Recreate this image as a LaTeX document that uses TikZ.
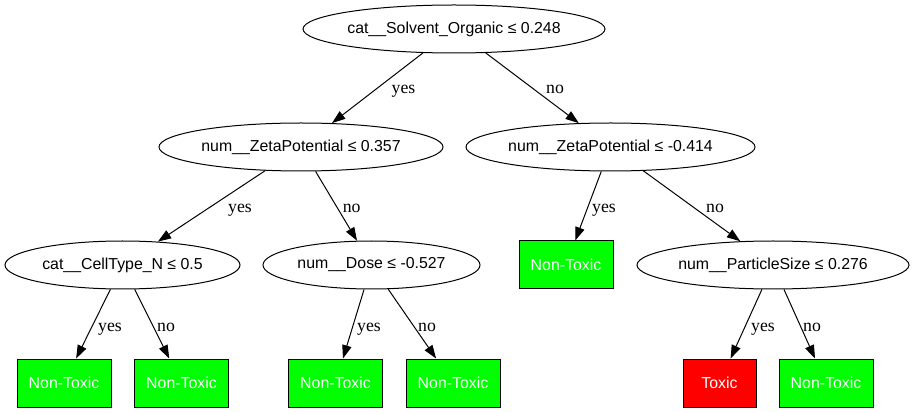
\documentclass[tikz,border=0pt]{standalone}
\usepackage{fontspec}
\setmainfont{Liberation Sans}
\newfontfamily\lblfont{Liberation Serif}
\usetikzlibrary{arrows.meta,shapes.geometric}
\definecolor{leafgreen}{HTML}{00FF00}
\definecolor{leafred}{HTML}{FF0000}
\begin{document}
\begin{tikzpicture}[x=0.75pt,y=-0.75pt,
  split/.style={ellipse, draw=black, line width=0.75pt, inner sep=0pt, minimum height=36pt, font=\fontsize{11.9}{14}\selectfont},
  leaf/.style={rectangle, draw=black, line width=0.75pt, inner sep=0pt, minimum height=36pt, minimum width=70.5pt, text=white, fill=leafgreen, font=\fontsize{11.9}{14}\selectfont},
  toxic/.style={leaf, fill=leafred, minimum width=54.75pt},
  edge/.style={draw=black, line width=0.75pt, -{Triangle[length=10pt,width=7pt]}},
  lbl/.style={anchor=base, inner sep=0pt, text=black, font=\lblfont\fontsize{13.3}{15}\selectfont}]
\fill[white] (0,0) rectangle (914,413);
\useasboundingbox (0,0) rectangle (914,413);

% split nodes
\node[split, minimum width=226.5pt] (root) at (454,29) {\makebox[0pt]{cat\_\_Solvent\_Organic ≤ 0.248}};
\node[split, minimum width=213pt] (zp1) at (301,147) {\makebox[0pt]{num\_\_ZetaPotential ≤ 0.357}};
\node[split, minimum width=216.75pt] (zp2) at (610.5,147) {\makebox[0pt]{num\_\_ZetaPotential ≤ -0.414}};
\node[split, minimum width=176.25pt] (cell) at (122.5,265) {\makebox[0pt]{cat\_\_CellType\_N ≤ 0.5}};
\node[split, minimum width=162.75pt] (dose) at (371.5,265) {\makebox[0pt]{num\_\_Dose ≤ -0.527}};
\node[split, minimum width=204pt] (ps) at (773,265) {\makebox[0pt]{num\_\_ParticleSize ≤ 0.276}};

% leaves
\node[leaf] (nt0) at (566,265) {Non-Toxic};
\node[leaf] (nt1) at (64,383) {Non-Toxic};
\node[leaf] (nt2) at (181.5,383) {Non-Toxic};
\node[leaf] (nt3) at (335.5,383) {Non-Toxic};
\node[leaf] (nt4) at (453,383) {Non-Toxic};
\node[toxic] (tx) at (719.5,383) {Toxic};
\node[leaf] (nt5) at (826,383) {Non-Toxic};

% edges with labels
\draw[edge] (root) -- (zp1) node[lbl] (l1) at (403.5,94) {yes};
\draw[edge] (root) -- (zp2) node[lbl] (l2) at (555,94) {no};
\draw[edge] (zp1) -- (cell) node[lbl] (l3) at (240,213) {yes};
\draw[edge] (zp1) -- (dose) node[lbl] (l4) at (351.7,213) {no};
\draw[edge] (zp2) -- (nt0) node[lbl] (l5) at (604,213) {yes};
\draw[edge] (zp2) -- (ps) node[lbl] (l6) at (715,213) {no};
\draw[edge] (cell) -- (nt1) node[lbl] (l7) at (110,331) {yes};
\draw[edge] (cell) -- (nt2) node[lbl] (l8) at (166,331) {no};
\draw[edge] (dose) -- (nt3) node[lbl] (l9) at (369,331) {yes};
\draw[edge] (dose) -- (nt4) node[lbl] (l10) at (427,331) {no};
\draw[edge] (ps) -- (tx) node[lbl] (l11) at (763,331) {yes};
\draw[edge] (ps) -- (nt5) node[lbl] (l12) at (812,331) {no};
\end{tikzpicture}
\end{document}
